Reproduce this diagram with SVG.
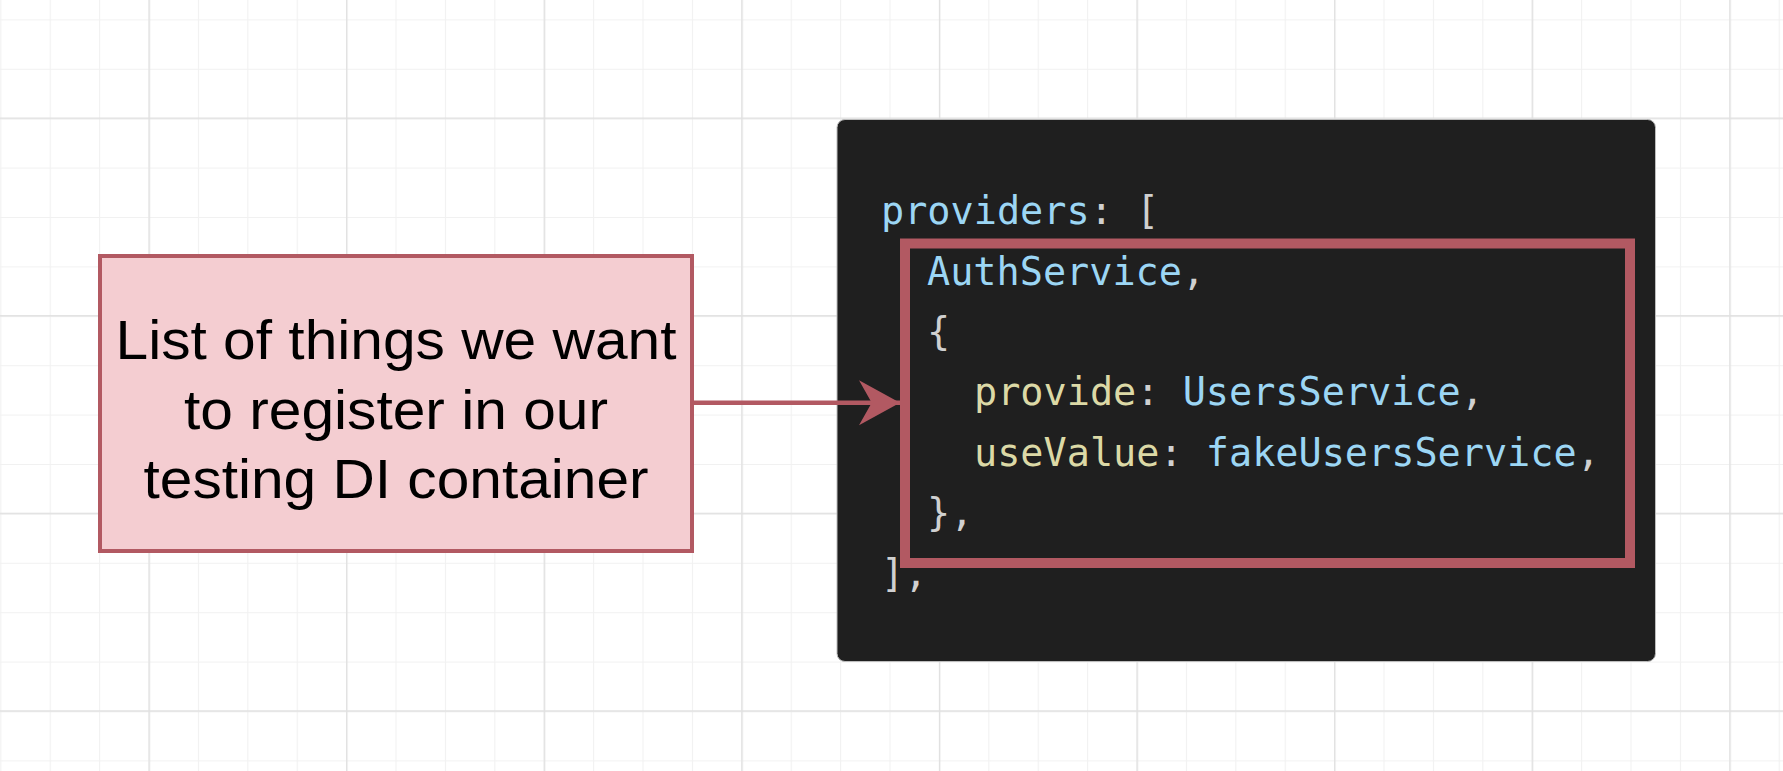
<svg xmlns="http://www.w3.org/2000/svg" width="1783" height="771" viewBox="0 0 1783 771">
  <style>
    .code { font-family: "DejaVu Sans Mono", "Liberation Mono", monospace; font-size: 38.5px; white-space: pre; }
    .blue { fill: #9cd6f4; }
    .yel { fill: #dcd9a6; }
    .pun { fill: #d0d0d0; }
    .label { font-family: "Liberation Sans", Arial, Helvetica, sans-serif; font-size: 56px; fill: #000000; text-anchor: middle; }
  </style>
  <defs>
    <pattern id="minor" patternUnits="userSpaceOnUse" x="0.3" y="19.4" width="49.4" height="49.4">
      <path d="M0 0.5 H49.4 M0.5 0 V49.4" fill="none" stroke="#f1f1f1" stroke-width="1.2"/>
    </pattern>
    <pattern id="major" patternUnits="userSpaceOnUse" x="148.5" y="117.5" width="197.6" height="197.6">
      <path d="M0 0.7 H197.6 M0.7 0 V197.6" fill="none" stroke="#e0e0e0" stroke-width="1.4"/>
    </pattern>
    <marker id="arrow" markerUnits="userSpaceOnUse" markerWidth="44" markerHeight="46" refX="41" refY="22.5" orient="auto">
      <path d="M0 0 L41 22.5 L0 45 L12.7 22.5 Z" fill="#b25962"/>
    </marker>
  </defs>

  <rect x="0" y="0" width="1783" height="771" fill="#ffffff"/>
  <rect x="0" y="0" width="1783" height="771" fill="url(#minor)"/>
  <rect x="0" y="0" width="1783" height="771" fill="url(#major)"/>

  <g id="code-panel">
    <rect x="837" y="119.5" width="818.5" height="542" rx="8" ry="8" fill="#1f1f1f" stroke="#bdbdbd" stroke-width="1"/>
    <text class="code" x="881" y="224"><tspan class="blue">providers</tspan><tspan class="pun">: [</tspan></text>
    <text class="code" x="927" y="284.5"><tspan class="blue">AuthService</tspan><tspan class="pun">,</tspan></text>
    <text class="code" x="927" y="345"><tspan class="pun">{</tspan></text>
    <text class="code" x="974" y="405"><tspan class="yel">provide</tspan><tspan class="pun">: </tspan><tspan class="blue">UsersService</tspan><tspan class="pun">,</tspan></text>
    <text class="code" x="974" y="465.5"><tspan class="yel">useValue</tspan><tspan class="pun">: </tspan><tspan class="blue">fakeUsersService</tspan><tspan class="pun">,</tspan></text>
    <text class="code" x="927" y="526"><tspan class="pun">},</tspan></text>
    <text class="code" x="881" y="586.5"><tspan class="pun">],</tspan></text>
  </g>

  <g id="highlight-box">
    <rect x="905" y="243.5" width="725" height="319.5" fill="none" stroke="#b25962" stroke-width="10"/>
  </g>

  <g id="description">
    <rect x="100" y="256" width="592" height="295" fill="#f4cdd1" stroke="#b25962" stroke-width="4"/>
    <text class="label" x="396" y="359" textLength="561" lengthAdjust="spacingAndGlyphs">List of things we want</text>
    <text class="label" x="396" y="428.5" textLength="424" lengthAdjust="spacingAndGlyphs">to register in our</text>
    <text class="label" x="396" y="498" textLength="505" lengthAdjust="spacingAndGlyphs">testing DI container</text>
  </g>

  <g id="connectors">
    <line x1="694" y1="402.7" x2="900" y2="402.7" stroke="#b25962" stroke-width="4.5" marker-end="url(#arrow)"/>
  </g>
</svg>
